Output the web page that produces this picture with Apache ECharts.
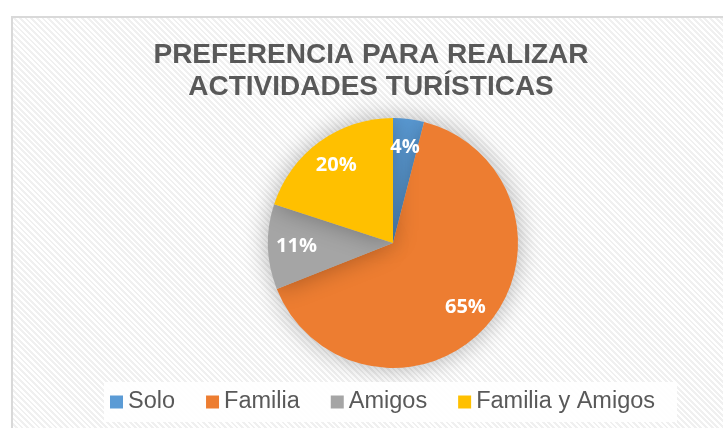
<!DOCTYPE html>
<html>
<head>
<meta charset="utf-8">
<script src="https://cdn.jsdelivr.net/npm/echarts@6/dist/echarts.min.js"></script>
<style>
  html, body { margin: 0; padding: 0; background: #fff; }
  #frame {
    position: absolute; left: 11px; top: 16px; width: 720px; height: 420px;
    border: 2px solid #d9d9d9; box-sizing: border-box;
    background: repeating-linear-gradient(45deg, #ffffff 0px, #ffffff 2px, #f0f0f0 2px, #f0f0f0 4px);
  }
  #main { position: absolute; left: 0; top: 0; width: 723px; height: 428px; }
</style>
</head>
<body>
<div id="frame"></div>
<div id="main"></div>
<script>
// datos del grafico
var categorias = ['Solo', 'Familia', 'Amigos', 'Familia y Amigos'];
var porcentajes = [4, 65, 11, 20];
var colores = ['#5B9BD5', '#ED7D31', '#A5A5A5', '#FFC000'];

var datos = [];
for (var i = 0; i < categorias.length; i++) {
    datos.push({ name: categorias[i], value: porcentajes[i], itemStyle: { color: colores[i] } });
}

var myChart = echarts.init(document.getElementById('main'));
var option = {
    backgroundColor: 'transparent',
    animation: false,
    title: {
        text: 'PREFERENCIA PARA REALIZAR\nACTIVIDADES TURÍSTICAS',
        left: 371,
        top: 39,
        padding: 0,
        textAlign: 'center',
        textStyle: {
            fontFamily: 'Liberation Sans, Arial',
            fontWeight: 'bold',
            fontSize: 28,
            lineHeight: 32,
            color: '#595959',
            align: 'center'
        }
    },
    legend: {
        data: categorias,
        left: 104,
        top: 382,
        padding: [8, 22, 8, 6],
        backgroundColor: 'rgba(255,255,255,0.9)',
        itemWidth: 13,
        itemHeight: 13,
        itemGap: 31,
        icon: 'rect',
        textStyle: {
            fontFamily: 'Liberation Sans, Arial',
            fontSize: 23.5,
            color: '#595959'
        }
    },
    series: [
        {
            // pastel con sombra
            type: 'pie',
            center: [393, 243],
            radius: 125,
            startAngle: 90,
            clockwise: true,
            silent: true,
            label: { show: false },
            labelLine: { show: false },
            itemStyle: {
                shadowBlur: 25,
                shadowColor: 'rgba(0,0,0,0.3)'
            },
            data: datos
        },
        {
            // capa transparente solo para las etiquetas
            type: 'pie',
            center: [393, 243],
            radius: [62, 125],
            startAngle: 90,
            clockwise: true,
            silent: true,
            legendHoverLink: false,
            itemStyle: { color: 'transparent' },
            label: {
                show: true,
                position: 'inside',
                formatter: '{c}%',
                color: '#fff',
                fontFamily: 'Open Sans',
                fontWeight: 'bold',
                fontSize: 20
            },
            labelLine: { show: false },
            data: porcentajes.map(function (v, i) { return { name: categorias[i] + ' ', value: v }; })
        }
    ]
};
myChart.setOption(option);
</script>
</body>
</html>
